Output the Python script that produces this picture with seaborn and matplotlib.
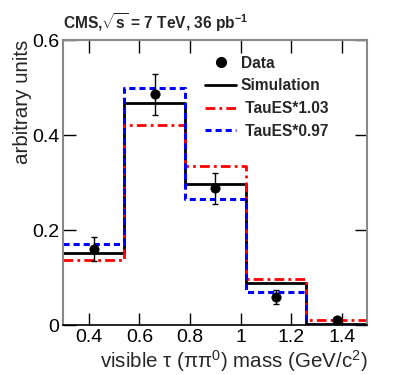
import numpy as np
import seaborn as sb
import matplotlib
matplotlib.use("Agg")
import matplotlib.pyplot as plt
from matplotlib.ticker import FuncFormatter, MultipleLocator
from matplotlib.lines import Line2D

# Данные
edges = [0.30, 0.54, 0.78, 1.02, 1.26, 1.50]
centers = [0.42, 0.66, 0.90, 1.14, 1.38]
sim = [0.151, 0.467, 0.297, 0.088, 0.003]
es_up = [0.138, 0.422, 0.334, 0.097, 0.011]
es_down = [0.171, 0.500, 0.265, 0.069, 0.001]
data = [0.160, 0.486, 0.288, 0.060, 0.010]
data_err = [0.025, 0.043, 0.033, 0.015, 0.004]

sb.set_style("ticks")
plt.rcParams["font.family"] = ["Liberation Sans", "DejaVu Sans"]
plt.rcParams["mathtext.fontset"] = "custom"
plt.rcParams["mathtext.rm"] = "Liberation Sans"
plt.rcParams["mathtext.bf"] = "Liberation Sans:bold"
plt.rcParams["mathtext.it"] = "Liberation Sans:italic"
plt.rcParams["mathtext.default"] = "regular"

fig = plt.figure(figsize=(3.99, 3.75), dpi=100)
ax = fig.add_axes([0.159, 0.133, 0.761, 0.760])

dashdot = (0, (3.5, 1.5, 1, 1.5))
dashed = (0, (2, 1.3))

# Гистограммы
sb.histplot(x=centers, weights=sim, bins=edges, element="step", fill=False,
            color="black", linewidth=2, ax=ax)
sb.histplot(x=centers, weights=es_up, bins=edges, element="step", fill=False,
            color="red", linewidth=2, linestyle=dashdot, ax=ax)
sb.histplot(x=centers, weights=es_down, bins=edges, element="step", fill=False,
            color="blue", linewidth=2.2, linestyle=dashed, ax=ax)

# Данные
ax.errorbar(centers, data, yerr=data_err, fmt="none", ecolor="black",
            elinewidth=1, capsize=2.5, capthick=1, zorder=5)
sb.scatterplot(x=centers, y=data, color="black", s=45, edgecolor="black",
               zorder=6, ax=ax)

ax.set_xlim(0.3, 1.5)
ax.set_ylim(0, 0.6)
ax.yaxis.set_major_locator(MultipleLocator(0.2))
ax.yaxis.set_major_formatter(FuncFormatter(lambda v, p: "0" if v == 0 else f"{v:.1f}"))
ax.set_xticks([0.4, 0.6, 0.8, 1.0, 1.2, 1.4])
ax.xaxis.set_major_formatter(FuncFormatter(lambda v, p: "1" if abs(v - 1) < 1e-9 else f"{v:.1f}"))
ax.tick_params(direction="in", length=9, width=1, labelsize=14, colors="black",
               top=True, right=True)
ax.tick_params(axis="x", pad=3)
ax.tick_params(axis="y", pad=3)
for side in ["left", "right", "top"]:
    ax.spines[side].set_color("#888888")
    ax.spines[side].set_linewidth(1.5)
ax.spines["bottom"].set_color("black")
ax.spines["bottom"].set_linewidth(1.2)

ax.set_xlabel("visible τ (ππ$^0$) mass (GeV/c$^2$)", fontsize=14.8, loc="right", labelpad=1)
ax.set_ylabel("arbitrary units", fontsize=14.8, loc="top", labelpad=0)
ax.set_title(r"CMS,$\sqrt{\mathbf{s}}$ = 7 TeV, 36 pb$^{\mathbf{-1}}$",
             fontsize=11.2, fontweight="bold", loc="left", pad=8)

handles = [
    Line2D([], [], marker="o", color="black", linestyle="none", markersize=7),
    Line2D([], [], color="black", linewidth=2),
    Line2D([], [], color="red", linewidth=2, linestyle=dashdot),
    Line2D([], [], color="blue", linewidth=2.2, linestyle=dashed),
]
labels = ["Data", "Simulation", " TauES*1.03", " TauES*0.97"]
leg = ax.legend(handles, labels, loc="upper left", bbox_to_anchor=(0.42, 0.995),
                frameon=False, handlelength=2.0, handletextpad=0.3,
                labelspacing=0.5, prop={"weight": "bold", "size": 11.2})

fig.savefig("out.png", dpi=100)
